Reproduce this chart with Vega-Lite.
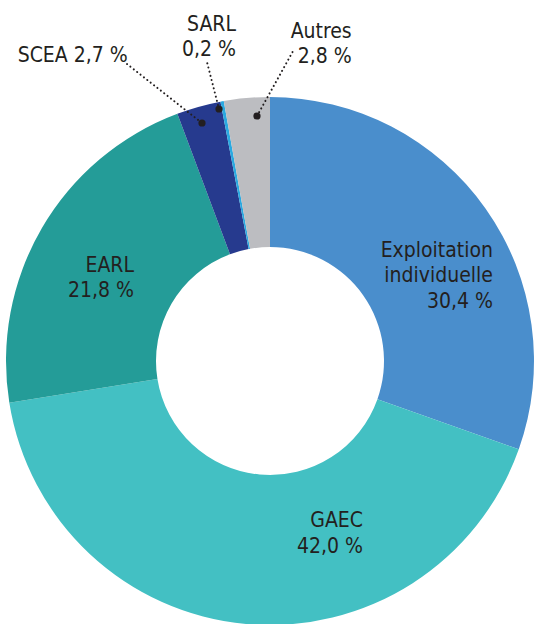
{
  "$schema": "https://vega.github.io/schema/vega-lite/v6.json",
  "width": 532,
  "height": 526,
  "padding": {"left": 4, "top": 98, "right": 0, "bottom": 0},
  "autosize": {"type": "none"},
  "background": "white",
  "config": {"view": {"stroke": null}},
  "datasets": {
    "slices": [
      {"i": 1, "category": "Exploitation individuelle", "value": 30.4},
      {"i": 2, "category": "GAEC", "value": 42.0},
      {"i": 3, "category": "EARL", "value": 21.8},
      {"i": 4, "category": "SCEA", "value": 2.7},
      {"i": 5, "category": "SARL", "value": 0.2},
      {"i": 6, "category": "Autres", "value": 2.8}
    ],
    "labels": [
      {"label": "Exploitation\nindividuelle\n30,4 %", "x": 84.47, "y": 39.51},
      {"label": "EARL\n21,8 %", "x": -51.52, "y": 33.83},
      {"label": "GAEC\n42,0 %", "x": 35.23, "y": -62.99},
      {"label": "SCEA 2,7 %", "x": -53.9, "y": 113.14},
      {"label": "SARL\n0,2 %", "x": -12.88, "y": 125.11},
      {"label": "Autres\n2,8 %", "x": 30.95, "y": 122.46}
    ],
    "leaders": [
      {"k": "SCEA", "end": "dot", "x": -25.76, "y": 90.15},
      {"k": "SCEA", "end": "label", "x": -54.17, "y": 112.5},
      {"k": "SARL", "end": "dot", "x": -19.32, "y": 95.45},
      {"k": "SARL", "end": "label", "x": -23.75, "y": 112.77},
      {"k": "Autres", "end": "dot", "x": -4.92, "y": 92.8},
      {"k": "Autres", "end": "label", "x": 8.6, "y": 117.16}
    ]
  },
  "layer": [
    {
      "data": {"name": "slices"},
      "mark": {"type": "arc", "outerRadius": 264, "innerRadius": 114},
      "encoding": {
        "theta": {"field": "value", "type": "quantitative", "stack": true},
        "order": {"field": "i", "type": "quantitative"},
        "color": {
          "field": "category",
          "type": "nominal",
          "legend": null,
          "scale": {
            "domain": ["Exploitation individuelle", "GAEC", "EARL", "SCEA", "SARL", "Autres"],
            "range": ["#4a8ecc", "#43c0c3", "#249c98", "#263a8e", "#2aa9e0", "#bcbdc1"]
          }
        }
      }
    },
    {
      "data": {"name": "leaders"},
      "mark": {"type": "line", "color": "#231f20", "strokeWidth": 2, "strokeDash": [0.1, 4.2], "strokeCap": "round"},
      "encoding": {
        "x": {"field": "x", "type": "quantitative", "axis": null, "scale": {"domain": [-100.76, 100.76], "nice": false, "zero": false}},
        "y": {"field": "y", "type": "quantitative", "axis": null, "scale": {"domain": [-99.62, 99.62], "nice": false, "zero": false}},
        "detail": {"field": "k"}
      }
    },
    {
      "data": {"name": "leaders"},
      "transform": [{"filter": "datum.end === 'dot'"}],
      "mark": {"type": "point", "filled": true, "color": "#231f20", "opacity": 1, "size": 52},
      "encoding": {
        "x": {"field": "x", "type": "quantitative"},
        "y": {"field": "y", "type": "quantitative"}
      }
    },
    {
      "data": {"name": "labels"},
      "mark": {"type": "text", "align": "right", "baseline": "alphabetic", "lineBreak": "\n", "lineHeight": 25.5, "font": "DejaVu Sans Condensed", "fontSize": 21, "color": "#231f20"},
      "encoding": {
        "x": {"field": "x", "type": "quantitative"},
        "y": {"field": "y", "type": "quantitative"},
        "text": {"field": "label"}
      }
    }
  ]
}
